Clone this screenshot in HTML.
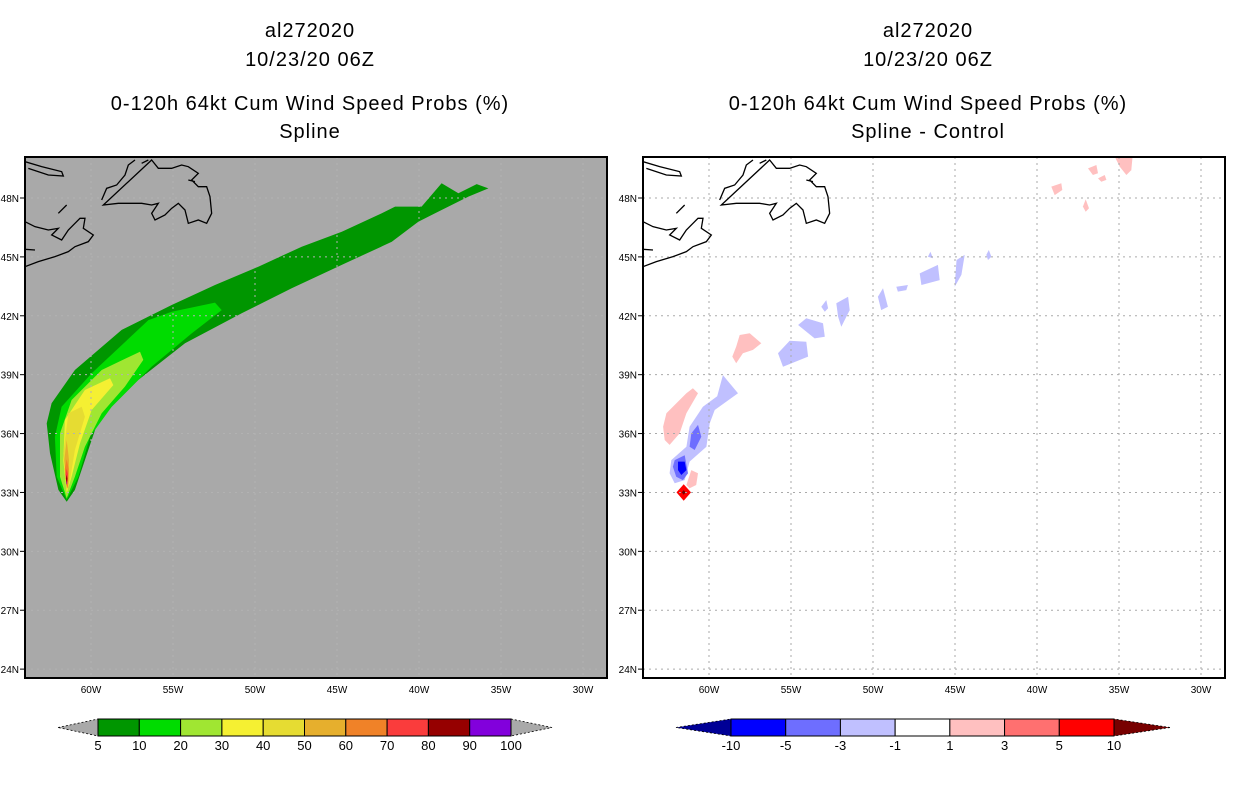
<!DOCTYPE html>
<html><head><meta charset="utf-8"><style>
body{margin:0;background:#fff;width:1236px;height:800px;overflow:hidden;font-family:"Liberation Sans",sans-serif}
svg{position:absolute;left:0;top:0}
</style></head><body>
<svg id="chart" width="1236" height="800"></svg>
<script>
// ---------- DATA ----------
const latTicks=[48,45,42,39,36,33,30,27,24];
const lonTicks=[-60,-55,-50,-45,-40,-35,-30];
const probLevels=["5","10","20","30","40","50","60","70","80","90","100"];
const probColors=["#009600","#00dc00","#a0e632","#f5f032","#e6dc32","#e6af2d","#f08228","#fa3c3c","#960000","#8200dc"];
const diffLevels=["-10","-5","-3","-1","1","3","5","10"];
const diffColors=["#000096","#0000ff","#6e6eff","#c0c0ff","#ffffff","#ffc0c0","#ff7070","#ff0000","#780000"];
const prob5=[[-61.48,32.53],[-61.99,33.13],[-62.5,35.0],[-62.7,36.52],[-62.4,37.54],[-60.98,39.24],[-58.13,41.28],[-55.08,42.55],[-52.44,43.57],[-49.8,44.5],[-47.15,45.52],[-44.71,46.28],[-42.27,47.22],[-41.46,47.56],[-39.84,47.56],[-38.62,48.75],[-37.6,48.24],[-36.48,48.71],[-35.77,48.49],[-36.99,48.07],[-39.02,47.22],[-40.04,46.79],[-41.66,45.77],[-44.51,44.67],[-47.76,43.4],[-50.81,42.13],[-54.27,40.6],[-57.12,38.73],[-59.55,36.69],[-60.37,34.65],[-60.98,33.13]];
const prob10=[[-61.48,32.62],[-62.09,33.8],[-62.2,35.84],[-61.79,37.37],[-59.96,39.07],[-56.5,41.78],[-55.08,42.21],[-52.44,42.67],[-52.03,42.29],[-53.86,41.1],[-56.3,39.41],[-58.74,37.37],[-60.06,35.84],[-60.77,33.8]];
const prob20=[[-61.48,32.7],[-61.89,33.8],[-61.89,36.01],[-61.18,37.71],[-59.35,39.24],[-57.01,40.17],[-56.81,39.75],[-57.93,38.39],[-59.35,37.03],[-60.37,35.33],[-60.98,33.8]];
const prob30=[[-61.48,32.96],[-61.69,34.65],[-61.59,36.69],[-60.37,38.22],[-58.84,38.82],[-58.64,38.47],[-59.96,37.2],[-60.67,35.5],[-61.18,33.8]];
const prob40=[[-61.48,33.13],[-61.69,35.0],[-61.38,37.03],[-60.57,37.37],[-60.37,36.86],[-60.98,35.16],[-61.28,33.63]];
const prob50=[[-61.48,33.21],[-61.63,34.65],[-61.48,35.67],[-61.34,34.65],[-61.38,33.21]];
const prob60=[[-61.48,33.3],[-61.6,34.2],[-61.48,34.7],[-61.36,34.2],[-61.4,33.3]];
const prob70=[[-61.48,33.35],[-61.56,33.9],[-61.48,34.2],[-61.4,33.9]];
const prob80=[[-61.48,33.38],[-61.53,33.7],[-61.48,33.9],[-61.43,33.7]];
const prob90=[[-61.5,33.45],[-61.48,33.62],[-61.45,33.45]];
const probSeries=[prob5,prob10,prob20,prob30,prob40,prob50,prob60,prob70,prob80,prob90];
const diffNeg1=[
 [[-59.15,38.98],[-58.23,38.05],[-59.65,37.2],[-59.96,36.52],[-60.16,35.33],[-61.18,34.57],[-61.48,33.63],[-62.09,33.47],[-62.4,33.98],[-62.3,34.65],[-61.38,35.33],[-61.18,36.35],[-60.37,37.37],[-59.5,37.9]],
 [[-55.79,40.09],[-55.08,40.73],[-54.07,40.68],[-53.96,39.92],[-55.49,39.4]],
 [[-54.57,41.53],[-54.07,41.87],[-53.05,41.62],[-52.94,40.93],[-53.56,40.85]],
 [[-52.24,42.64],[-51.52,42.97],[-51.42,42.29],[-51.93,41.44],[-52.13,41.95]],
 [[-53.15,42.46],[-52.85,42.8],[-52.74,42.38],[-52.94,42.21]],
 [[-49.7,42.97],[-49.39,43.4],[-49.09,42.46],[-49.5,42.29]],
 [[-48.58,43.48],[-47.87,43.57],[-47.97,43.31],[-48.48,43.23]],
 [[-47.15,44.16],[-46.04,44.59],[-45.93,43.82],[-47.05,43.57]],
 [[-44.91,44.84],[-44.41,45.1],[-44.61,44.08],[-45.02,43.48]],
 [[-46.65,45.01],[-46.5,45.26],[-46.34,44.93]],
 [[-43.09,45.1],[-42.94,45.35],[-42.78,45.01],[-42.99,44.84]]
];
const diffNeg3=[
 [[-60.67,36.44],[-60.47,35.84],[-60.87,35.16],[-61.18,35.33],[-61.08,36.01]],
 [[-62.09,34.65],[-61.48,34.9],[-61.28,33.98],[-61.59,33.63],[-62.0,33.8],[-62.2,34.31]]
];
const diffNeg5=[[[-61.89,34.57],[-61.48,34.57],[-61.38,34.14],[-61.69,33.89],[-61.89,34.14]]];
const diffPos1=[
 [[-62.8,36.35],[-62.6,37.03],[-61.38,38.05],[-60.98,38.31],[-60.67,38.05],[-61.38,37.03],[-61.79,36.01],[-62.4,35.42],[-62.7,35.67]],
 [[-61.08,34.14],[-60.67,33.98],[-60.78,33.38],[-61.18,33.21],[-61.38,33.38]],
 [[-58.13,41.02],[-57.52,41.11],[-56.81,40.6],[-57.32,40.26],[-57.93,40.09],[-58.34,39.58],[-58.58,39.92],[-58.34,40.43]],
 [[-39.13,48.58],[-38.52,48.75],[-38.46,48.41],[-38.92,48.15]],
 [[-37.2,47.56],[-37.03,47.93],[-36.83,47.48],[-37.03,47.3]],
 [[-36.89,49.51],[-36.38,49.68],[-36.28,49.26],[-36.59,49.17]],
 [[-35.37,50.3],[-34.15,50.3],[-34.25,49.42],[-34.55,49.17],[-34.96,49.6]],
 [[-36.28,49.0],[-35.87,49.17],[-35.77,48.92],[-36.08,48.83]]
];
const diffPos5=[[[-61.54,33.42],[-61.1,33.0],[-61.54,32.58],[-61.98,33.0]]];
const diffPos10=[[[-61.54,33.12],[-61.42,33.0],[-61.54,32.88],[-61.66,33.0]]];
const diffSeries=[[3,diffNeg1],[2,diffNeg3],[1,diffNeg5],[5,diffPos1],[7,diffPos5],[8,diffPos10]];

// ---------- DRAW ----------
const NS="http://www.w3.org/2000/svg";
const svg=document.getElementById('chart');
function mk(tag,attrs,parent){const e=document.createElementNS(NS,tag);for(const k in attrs)e.setAttribute(k,attrs[k]);(parent||svg).appendChild(e);return e;}
const W=582,H=521,TOP=157;
function xs(lon){return 66+(lon+60)*16.4;}
function ys(lat){return 41+(48-lat)*19.63;}
function pts(arr){return arr.map(p=>xs(p[0]).toFixed(1)+','+ys(p[1]).toFixed(1)).join(' ');}
const coast="M230,120 L245,85 L275,75 L300,45 L310,15 L330,0 M380,0 L400,25 L440,25 L470,15 L490,20 L520,40 L500,60 L520,80 L545,80 L555,110 L560,160 L545,190 L520,180 L490,190 L480,150 L460,130 L440,145 L420,165 L390,180 L380,160 L400,130 L380,135 L350,130 L280,130 L235,135 Z M0,185 L30,200 L70,210 L100,205 L80,225 L110,240 L130,210 L150,190 L165,175 L180,175 L175,205 L205,225 L190,245 L150,260 L130,275 L90,290 L40,305 L0,320 M0,268 L30,270 M0,5 L50,20 L110,35 L115,48 L70,45 L10,25 M100,160 L125,135 M350,10 L370,0 M490,60 L510,65";

function panel(ox,kind,titles){
  const g=mk('g',{transform:`translate(${ox},${TOP})`});
  
  
  const clipId='clip'+kind;
  const cp=mk('clipPath',{id:clipId},g);mk('rect',{x:0,y:0,width:W,height:H},cp);
  const bg=mk('rect',{x:0,y:0,width:W,height:H,fill:kind==='prob'?'#a9a9a9':'#ffffff'},g);
  
  
  const inner=mk('g',{'clip-path':`url(#${clipId})`},g);
  if(kind==='prob'){
    probSeries.forEach((s,i)=>{const p=mk('polygon',{points:pts(s),fill:probColors[i]},inner);
      
      });
  }else{
    diffSeries.forEach(([ci,blobs])=>blobs.forEach(b=>{const p=mk('polygon',{points:pts(b),fill:diffColors[ci]},inner);
      
      }));
  }
  const gc=kind==='prob'?'#b2b2b2':'#aaaaaa';
  lonTicks.forEach(l=>{const ln=mk('line',{x1:xs(l),x2:xs(l),y1:0,y2:H,stroke:gc,'stroke-width':1,'stroke-dasharray':'2,4'},inner);
    
    });
  latTicks.forEach(l=>{const ln=mk('line',{x1:0,x2:W,y1:ys(l),y2:ys(l),stroke:gc,'stroke-width':1,'stroke-dasharray':'2,4'},inner);
    
    });
  const cg=mk('g',{transform:'translate(0,3) scale(0.3333)'},inner);
  const cpth=mk('path',{d:coast,fill:'none',stroke:'#000','stroke-width':1.3,'vector-effect':'non-scaling-stroke'},cg);
  
  
  const fr=mk('rect',{x:0,y:0,width:W,height:H,fill:'none',stroke:'#000','stroke-width':2},g);
  
  
  latTicks.forEach(l=>{mk('line',{x1:-5,x2:0,y1:ys(l),y2:ys(l),stroke:'#000'},g);
    const t=mk('text',{x:-6,y:ys(l)+4,'text-anchor':'end','font-size':10},g);t.textContent=l+'N';
    
    });
  lonTicks.forEach(l=>{const t=mk('text',{x:xs(l),y:H+15,'text-anchor':'middle','font-size':10},g);t.textContent=(-l)+'W';
    
    });
  titles.forEach((s,i)=>{const t=mk('text',{x:ox+285,y:[37,66,110,138][i],'text-anchor':'middle','font-size':20,'letter-spacing':'1'});t.textContent=s;
    
    });
}
panel(25,'prob',['al272020','10/23/20 06Z','0-120h 64kt Cum Wind Speed Probs (%)','Spline']);
panel(643,'diff',['al272020','10/23/20 06Z','0-120h 64kt Cum Wind Speed Probs (%)','Spline - Control']);

function colorbar(x0,x1,tipL,tipR,colors,labels,triL,triR,name){
  const g=mk('g',{});
  
  
  const y0=719,y1=736,ym=727.5,n=colors.length,w=(x1-x0)/n;
  mk('polygon',{points:`${tipL},${ym} ${x0},${y0} ${x0},${y1}`,fill:triL,stroke:'#000','stroke-width':0.8,'stroke-dasharray':'2,2'},g);
  mk('polygon',{points:`${tipR},${ym} ${x1},${y0} ${x1},${y1}`,fill:triR,stroke:'#000','stroke-width':0.8,'stroke-dasharray':'2,2'},g);
  colors.forEach((c,i)=>{const r=mk('rect',{x:x0+i*w,y:y0,width:w,height:y1-y0,fill:c,stroke:'#000','stroke-width':1},g);
    
    });
  labels.forEach((s,i)=>{const t=mk('text',{x:x0+i*w,y:750,'text-anchor':'middle','font-size':13},g);t.textContent=s;
    
    });
}
colorbar(98,511,58,552,probColors,probLevels,'#a9a9a9','#a9a9a9','probability-colorbar');
colorbar(731,1114,676,1170,diffColors.slice(1,8),diffLevels,diffColors[0],diffColors[8],'difference-colorbar');
</script>
</body></html>
